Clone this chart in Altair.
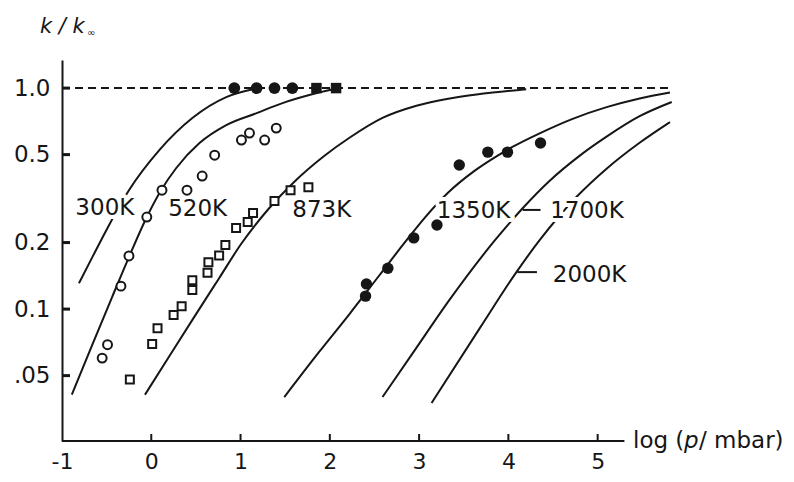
import altair as alt
import pandas as pd

# ---------------- data ----------------
curve_names = ["300K", "520K", "873K", "1350K", "1700K", "2000K"]

c300_x = [-0.81, -0.65, -0.49, -0.25, 0.09, 0.46, 0.84, 1.15]
c300_y = [0.131, 0.175, 0.233, 0.345, 0.524, 0.732, 0.910, 0.99]

c520_x = [-0.89, -0.66, -0.44, -0.25, -0.05, 0.11, 0.28, 0.54, 0.84, 1.18, 1.47, 1.77, 2.05]
c520_y = [0.041, 0.069, 0.113, 0.172, 0.261, 0.345, 0.435, 0.564, 0.680, 0.77, 0.855, 0.93, 0.99]

c873_x = [-0.07, 0.20, 0.48, 0.76, 1.01, 1.32, 1.60, 1.94, 2.22, 2.59, 2.97, 3.31, 3.68, 4.20]
c873_y = [0.041, 0.061, 0.092, 0.138, 0.198, 0.286, 0.376, 0.494, 0.596, 0.733, 0.832, 0.893, 0.940, 0.989]

c1350_x = [1.49, 1.88, 2.22, 2.56, 2.86, 3.06, 3.32, 3.62, 3.88, 4.04, 4.35, 4.72, 5.10, 5.47, 5.81]
c1350_y = [0.040, 0.064, 0.095, 0.143, 0.205, 0.258, 0.335, 0.422, 0.495, 0.540, 0.624, 0.726, 0.820, 0.898, 0.955]

c1700_x = [2.59, 2.95, 3.34, 3.85, 4.16, 4.46, 4.80, 5.10, 5.47, 5.83]
c1700_y = [0.040, 0.065, 0.110, 0.205, 0.286, 0.380, 0.495, 0.603, 0.746, 0.865]

c2000_x = [3.14, 3.68, 4.09, 4.35, 4.77, 5.10, 5.47, 5.81]
c2000_y = [0.0376, 0.082, 0.147, 0.205, 0.324, 0.432, 0.566, 0.702]

# measured points
open_c_x = [-0.55, -0.49, -0.34, -0.25, -0.05, 0.12, 0.40, 0.57, 0.71, 1.01, 1.10, 1.27, 1.40]
open_c_y = [0.060, 0.069, 0.127, 0.174, 0.261, 0.345, 0.345, 0.400, 0.497, 0.582, 0.626, 0.582, 0.659]

open_s_x = [-0.24, 0.01, 0.07, 0.25, 0.34, 0.46, 0.46, 0.63, 0.64, 0.76, 0.83, 0.95, 1.08, 1.14, 1.38, 1.56, 1.76]
open_s_y = [0.048, 0.0695, 0.082, 0.094, 0.103, 0.122, 0.135, 0.146, 0.163, 0.175, 0.195, 0.233, 0.248, 0.272, 0.308, 0.345, 0.356]

fill_c_x = [2.40, 2.41, 2.65, 2.94, 3.20, 3.45, 3.77, 3.99, 4.36]
fill_c_y = [0.1145, 0.130, 0.153, 0.210, 0.240, 0.449, 0.513, 0.513, 0.564]

top_c_x = [0.93, 1.18, 1.38, 1.58]
top_c_y = [1.0, 1.0, 1.0, 1.0]
top_s_x = [1.85, 2.07]
top_s_y = [1.0, 1.0]

# axes
x_ticks = [-1, 0, 1, 2, 3, 4, 5]
x_tick_labels = ["-1", "0", "1", "2", "3", "4", "5"]
y_ticks = [0.05, 0.1, 0.2, 0.5, 1.0]
y_tick_labels = [".05", "0.1", "0.2", "0.5", "1.0"]

# curve labels (data coordinates)
label_text = ["300K", "520K", "873K", "1350K", "1700K", "2000K"]
label_x = [-0.52, 0.52, 1.91, 3.61, 4.88, 4.91]
label_y = [0.286, 0.283, 0.281, 0.278, 0.278, 0.142]
leader_x0 = [4.16, 4.10]
leader_x1 = [4.36, 4.32]
leader_y = [0.281, 0.147]

# ---------------- chart ----------------
FONT = "DejaVu Sans"
INK = "#161616"
XS = alt.Scale(domain=[-1, 5.9], nice=False, zero=False)
YS = alt.Scale(type="log", domain=[0.0253, 1.34], nice=False)

y_label_expr = " : ".join(
    [f"datum.value > {v*0.97} && datum.value < {v*1.03} ? '{t}'" for v, t in zip(y_ticks, y_tick_labels)]
) + " : ''"
x_label_expr = " : ".join(
    [f"abs(datum.value - ({v})) < 0.01 ? '{t}'" for v, t in zip(x_ticks, x_tick_labels)]
) + " : ''"

AX = alt.Axis(values=x_ticks, labelExpr=x_label_expr, domain=False, ticks=False, grid=False,
              labelPadding=10, labelFont=FONT, labelFontSize=22, labelColor=INK, title=None,
              labelFlush=False)
AY = alt.Axis(values=y_ticks, labelExpr=y_label_expr, domain=True, domainColor=INK, domainWidth=2,
              ticks=False, grid=False, labelPadding=12, labelFont=FONT, labelFontSize=23,
              labelColor=INK, title=None, labelFlush=False)


def X(f="x"):
    return alt.X(f"{f}:Q", scale=XS, axis=AX)


def Y(f="y"):
    return alt.Y(f"{f}:Q", scale=YS, axis=AY)


rows = []
for name, xs, ys in zip(curve_names, [c300_x, c520_x, c873_x, c1350_x, c1700_x, c2000_x],
                        [c300_y, c520_y, c873_y, c1350_y, c1700_y, c2000_y]):
    for i, (a, b) in enumerate(zip(xs, ys)):
        rows.append({"curve": name, "order": i, "x": a, "y": b})
curves_df = pd.DataFrame(rows)

curves = alt.Chart(curves_df).mark_line(color=INK, strokeWidth=2, interpolate="monotone").encode(
    x=X("x"), y=Y("y"), detail="curve:N", order="order:Q")

# dashed k/k_inf = 1 line
dash_df = pd.DataFrame({"x": [-1.0], "x1": [5.83], "y": [1.0]})
dashed = alt.Chart(dash_df).mark_rule(color=INK, strokeWidth=2, strokeDash=[8, 5]).encode(
    x=X("x"), x2="x1:Q", y=Y("y"))

# x axis line (shorter than the plot area)
xaxis_df = pd.DataFrame({"x": [-1.0], "x1": [5.3], "y": [0.0253]})
xaxis_line = alt.Chart(xaxis_df).mark_rule(color=INK, strokeWidth=2).encode(
    x=X("x"), x2="x1:Q", y=Y("y"))

# inward ticks
yt_df = pd.DataFrame({"y": y_ticks})
yticks = alt.Chart(yt_df).mark_rule(color=INK, strokeWidth=3).encode(
    x=alt.value(0), x2=alt.value(8), y=Y("y"))
xt_df = pd.DataFrame({"x": x_ticks[1:]})
xticks = alt.Chart(xt_df).mark_rule(color=INK, strokeWidth=2).encode(
    x=X("x"), y=alt.value(381), y2=alt.value(374))

lab_df = pd.DataFrame({"t": label_text, "x": label_x, "y": label_y})
halo = alt.Chart(lab_df).mark_text(font=FONT, fontSize=23, fill="white", stroke="white",
                                   strokeWidth=8, strokeJoin="round").encode(
    x=X("x"), y=Y("y"), text="t:N")
labels = alt.Chart(lab_df).mark_text(font=FONT, fontSize=23, color=INK).encode(
    x=X("x"), y=Y("y"), text="t:N")

lead_df = pd.DataFrame({"x": leader_x0, "x1": leader_x1, "y": leader_y})
leaders = alt.Chart(lead_df).mark_rule(color=INK, strokeWidth=2).encode(
    x=X("x"), x2="x1:Q", y=Y("y"))

oc = alt.Chart(pd.DataFrame({"x": open_c_x, "y": open_c_y})).mark_point(
    shape="circle", size=80, fill="white", stroke=INK, strokeWidth=2, fillOpacity=1, opacity=1).encode(
    x=X("x"), y=Y("y"))
osq = alt.Chart(pd.DataFrame({"x": open_s_x, "y": open_s_y})).mark_point(
    shape="square", size=64, fill="white", stroke=INK, strokeWidth=2, fillOpacity=1, opacity=1).encode(
    x=X("x"), y=Y("y"))
fc = alt.Chart(pd.DataFrame({"x": fill_c_x, "y": fill_c_y})).mark_point(
    shape="circle", size=130, filled=True, color=INK, opacity=1).encode(
    x=X("x"), y=Y("y"))
tc = alt.Chart(pd.DataFrame({"x": top_c_x, "y": top_c_y})).mark_point(
    shape="circle", size=140, filled=True, color=INK, opacity=1).encode(
    x=X("x"), y=Y("y"))
ts = alt.Chart(pd.DataFrame({"x": top_s_x, "y": top_s_y})).mark_point(
    shape="square", size=110, filled=True, color=INK, opacity=1).encode(
    x=X("x"), y=Y("y"))

one = pd.DataFrame({"a": [0]})
ytitle = alt.Chart(one).mark_text(text="k / k", font=FONT, fontSize=21, fontStyle="italic",
                                  align="left", baseline="alphabetic", color=INK).encode(
    x=alt.value(-22), y=alt.value(-27))
yinf = alt.Chart(one).mark_text(text="\u221e", font=FONT, fontSize=10,
                                align="left", baseline="alphabetic", color=INK).encode(
    x=alt.value(25), y=alt.value(-24))
xt1 = alt.Chart(one).mark_text(text="log (", font=FONT, fontSize=23, align="left",
                               baseline="alphabetic", color=INK).encode(x=alt.value(571), y=alt.value(388))
xt2 = alt.Chart(one).mark_text(text="p", font=FONT, fontSize=23, fontStyle="italic", align="left",
                               baseline="alphabetic", color=INK).encode(x=alt.value(622), y=alt.value(388))
xt3 = alt.Chart(one).mark_text(text="/ mbar)", font=FONT, fontSize=23, align="left",
                               baseline="alphabetic", color=INK).encode(x=alt.value(637), y=alt.value(388))

chart = alt.layer(
    curves, dashed, xaxis_line, yticks, xticks, halo, leaders, oc, osq, fc, tc, ts, labels,
    ytitle, yinf, xt1, xt2, xt3,
).properties(
    width=616, height=381, autosize="none",
    padding={"left": 54, "top": 52, "right": 108, "bottom": 33},
    background="white",
).configure_view(stroke=None)

chart.save("out.html", embed_options={"renderer": "svg", "actions": False})
